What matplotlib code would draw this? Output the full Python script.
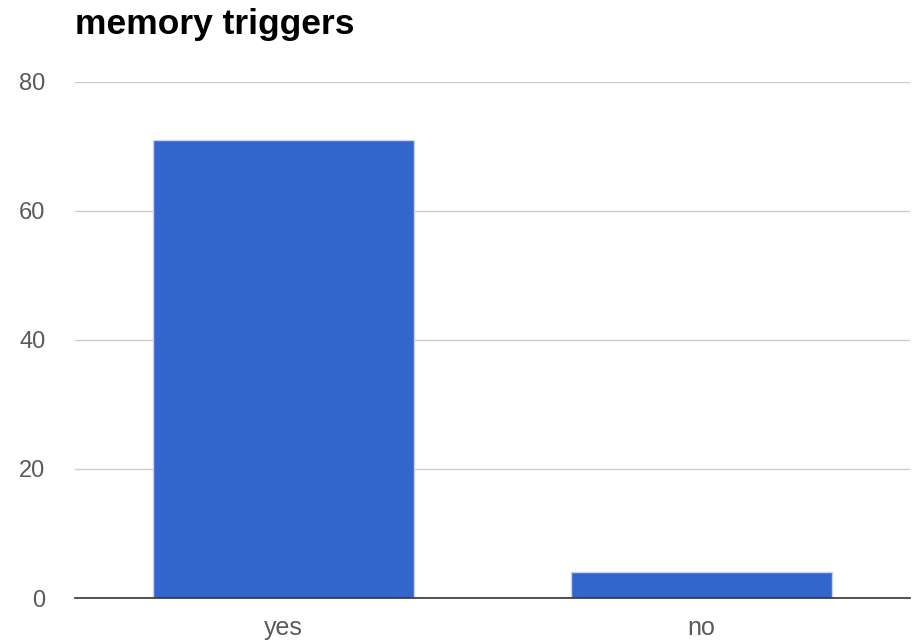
import matplotlib
matplotlib.use("Agg")
import matplotlib.pyplot as plt

categories = ["yes", "no"]
counts = [71, 4]
y_ticks = [0, 20, 40, 60, 80]

plt.rcParams['font.family'] = ['Liberation Sans', 'DejaVu Sans']

fig = plt.figure(figsize=(9.22, 6.44), dpi=100)
ax = fig.add_axes([0.081, 0.0714, 0.906, 0.8016])

x = range(len(categories))
ax.bar(x, counts, width=0.625, color='#3366cc', edgecolor='#c8d4ea', linewidth=1.0, zorder=3)

ax.set_xlim(-0.5, 1.5)
ax.set_ylim(0, 80)
ax.set_yticks(y_ticks)
ax.set_xticks(list(x))
ax.set_xticklabels(categories)
ax.grid(axis='y', color='#cccccc', linewidth=1, zorder=0)

for side in ['top', 'right', 'left']:
    ax.spines[side].set_visible(False)
ax.spines['bottom'].set_color('#333333')
ax.spines['bottom'].set_linewidth(1.2)
ax.spines['bottom'].set_zorder(4)

ax.tick_params(axis='both', length=0, colors='#5a5a5a')
ax.tick_params(axis='y', pad=21, labelsize=17)
ax.tick_params(axis='x', pad=13, labelsize=18)

fig.text(0.081, 0.962, "memory triggers", fontsize=25.5, fontweight='bold',
         color='#000000', ha='left', va='center')

fig.savefig("out.png", dpi=100)
plt.close(fig)
